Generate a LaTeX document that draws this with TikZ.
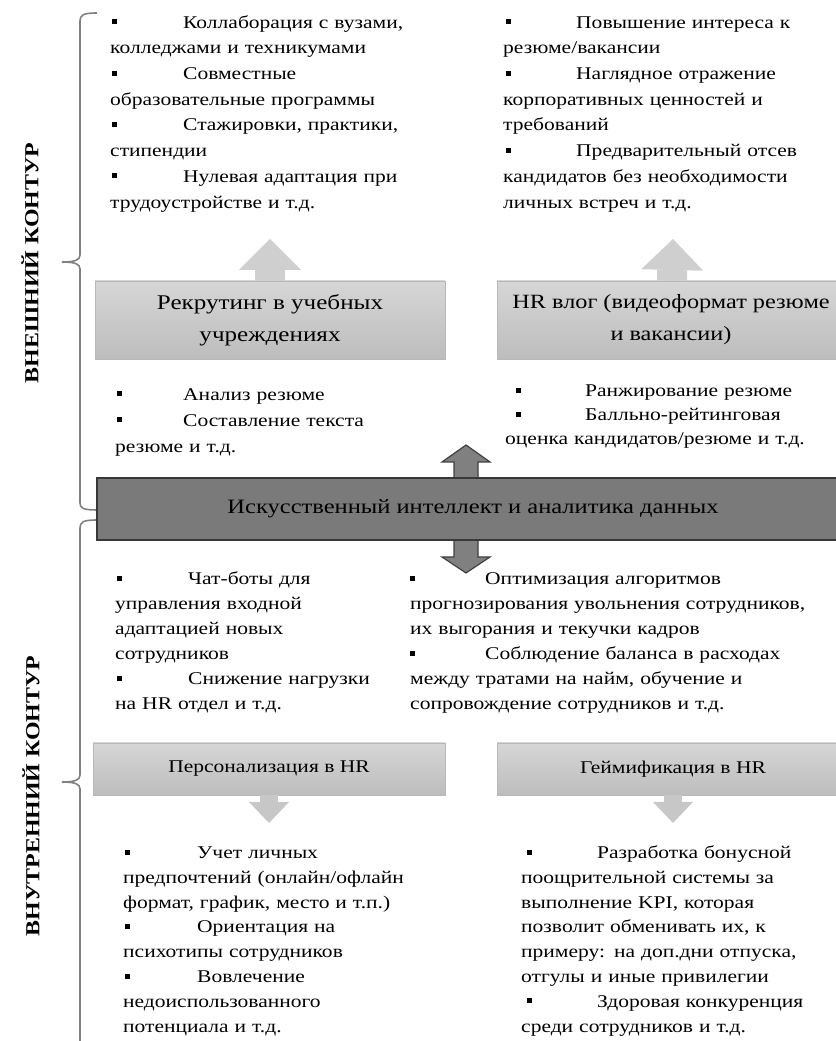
\documentclass[tikz,border=0pt]{standalone}
\usepackage{fontspec}
\setmainfont{Liberation Serif}[FakeStretch=1.2]
\usetikzlibrary{arrows.meta}
\setlength{\parindent}{0pt}

% bullet with tab: #1 shift of the square, #2 distance to the text
\newcommand{\bul}[2]{\makebox[#2][l]{\hspace*{#1}\rule[4bp]{5bp}{5bp}}}

\tikzset{
  lightbox/.style={draw=black!28,top color=black!16,bottom color=black!26,rectangle,inner sep=0pt,align=center},
  darkbox/.style={draw=black!78,fill=black!52,rectangle,inner sep=0pt,line width=1.2bp},
  dblarrow/.style={draw=black!75,fill=black!50,line width=1.2bp,line join=miter},
  liftup/.style={draw=black!19,line width=30bp,-{Triangle[width=62bp,length=31bp,line width=0bp 0]}},
  dropdown/.style={draw=black!22,line width=18bp,-{Triangle[width=40bp,length=21bp,line width=0bp 0]}},
  brc/.style={draw=black!50,line width=1.6bp},
  contour/.style={rotate=90,font=\fontsize{20}{24}\selectfont\bfseries},
  txt/.style={anchor=north west,inner sep=0pt,align=left,text width=440bp,font=\fontsize{18}{#1}\selectfont},
}

\begin{document}
\begin{tikzpicture}[>=Latex]
\clip (0bp,0bp) rectangle (836bp,1041bp);
%% braces and contour labels
\coordinate (outer_top) at (97bp,1028bp);
\coordinate (outer_bot) at (97bp,531bp);
\coordinate (inner_top) at (97bp,521bp);
\coordinate (inner_bot) at (80bp,-3bp);
\draw [brc] (outer_top) .. controls (83bp,1028bp) and (80bp,1026bp) .. (80bp,1020bp) -- (80bp,786bp)
  .. controls (80bp,781bp) and (75bp,779bp) .. (62bp,779bp)
  .. controls (75bp,779bp) and (80bp,777bp) .. (80bp,772bp) -- (80bp,538bp)
  .. controls (80bp,533bp) and (83bp,531bp) .. (outer_bot);
\draw [brc] (inner_top) .. controls (83bp,521bp) and (80bp,519bp) .. (80bp,513bp) -- (80bp,266bp)
  .. controls (80bp,261bp) and (75bp,259bp) .. (62bp,259bp)
  .. controls (75bp,259bp) and (80bp,257bp) .. (80bp,252bp) -- (inner_bot);
\node (outer_lbl) at (30bp,778bp) [contour] {ВНЕШНИЙ КОНТУР};
\node (inner_lbl) at (31bp,245bp) [contour] {ВНУТРЕННИЙ КОНТУР};
%% double arrow behind the AI box
\draw [dblarrow] (466bp,596bp) -- (490bp,579bp) -- (478bp,579bp) -- (478bp,484bp) -- (490bp,484bp)
  -- (466bp,468bp) -- (442bp,484bp) -- (454bp,484bp) -- (454bp,579bp) -- (442bp,579bp) -- cycle;
%% boxes
\node (ai) at (473bp,532bp) [darkbox,minimum width=752bp,minimum height=62bp,font=\fontsize{20.5}{26}\selectfont] {Искусственный интеллект и аналитика данных};
\coordinate (recruit_tip) at (270bp,802bp);
\coordinate (vlog_tip) at (673bp,802bp);
\coordinate (pers_tip) at (269bp,218bp);
\coordinate (game_tip) at (673bp,218bp);
\node (recruit) at (270bp,721bp) [lightbox,minimum width=350bp,minimum height=78bp,font=\fontsize{21}{32}\selectfont] {Рекрутинг в учебных\\учреждениях};
\node (vlog) at (671bp,721bp) [lightbox,minimum width=348bp,minimum height=78bp,font=\fontsize{20.3}{32}\selectfont] {HR влог (видеоформат резюме\\и вакансии)};
\node (pers) at (269bp,272bp) [lightbox,minimum width=352bp,minimum height=52bp,font=\fontsize{18}{22}\selectfont] {Персонализация в HR};
\node (game) at (673bp,272bp) [lightbox,minimum width=352bp,minimum height=52bp,font=\fontsize{18}{22}\selectfont] {Геймификация в HR};
\draw [liftup] (recruit) -- (recruit_tip);
\draw [liftup] (vlog) -- (vlog_tip);
\draw [dropdown] (pers) -- (pers_tip);
\draw [dropdown] (game) -- (game_tip);
%% text blocks
\node (recruit_pro) at (110bp,1031bp) [txt=25.7bp] {\strut\bul{2bp}{73bp}Коллаборация с вузами,\\
колледжами и техникумами\\
\bul{2bp}{73bp}Совместные\\
образовательные программы\\
\bul{2bp}{73bp}Стажировки, практики,\\
стипендии\\
\bul{2bp}{73bp}Нулевая адаптация при\\
трудоустройстве и т.д.};
\node (vlog_pro) at (503bp,1031bp) [txt=25.7bp] {\strut\bul{3bp}{73bp}Повышение интереса к\\
резюме/вакансии\\
\bul{3bp}{73bp}Наглядное отражение\\
корпоративных ценностей и\\
требований\\
\bul{3bp}{73bp}Предварительный отсев\\
кандидатов без необходимости\\
личных встреч и т.д.};
\node (ai_out_l) at (115bp,659bp) [txt=26bp] {\strut\bul{2bp}{68bp}Анализ резюме\\
\bul{2bp}{68bp}Составление текста\\
резюме и т.д.};
\node (ai_out_r) at (505bp,661bp) [txt=24bp] {\strut\bul{11bp}{80bp}Ранжирование резюме\\
\bul{11bp}{80bp}Балльно-рейтинговая\\
оценка кандидатов/резюме и т.д.};
\node (ai_in_l) at (115bp,474bp) [txt=25bp] {\strut\bul{2bp}{73bp}Чат-боты для\\
управления входной\\
адаптацией новых\\
сотрудников\\
\bul{2bp}{73bp}Снижение нагрузки\\
на HR отдел и т.д.};
\node (ai_in_r) at (410bp,474bp) [txt=25bp] {\strut\bul{0bp}{75bp}Оптимизация алгоритмов\\
прогнозирования увольнения сотрудников,\\
их выгорания и текучки кадров\\
\bul{0bp}{75bp}Соблюдение баланса в расходах\\
между тратами на найм, обучение и\\
сопровождение сотрудников и т.д.};
\node (pers_pro) at (123bp,200bp) [txt=24.8bp] {\strut\bul{2bp}{74bp}Учет личных\\
предпочтений (онлайн/офлайн\\
формат, график, место и т.п.)\\
\bul{2bp}{74bp}Ориентация на\\
психотипы сотрудников\\
\bul{2bp}{74bp}Вовлечение\\
недоиспользованного\\
потенциала и т.д.};
\node (game_pro) at (521bp,200bp) [txt=24.8bp] {\strut\bul{6bp}{76bp}Разработка бонусной\\
поощрительной системы за\\
выполнение KPI, которая\\
позволит обменивать их, к\\
примеру: на доп.дни отпуска,\\
отгулы и иные привилегии\\
\bul{6bp}{76bp}Здоровая конкуренция\\
среди сотрудников и т.д.};
%
\end{tikzpicture}
\end{document}
